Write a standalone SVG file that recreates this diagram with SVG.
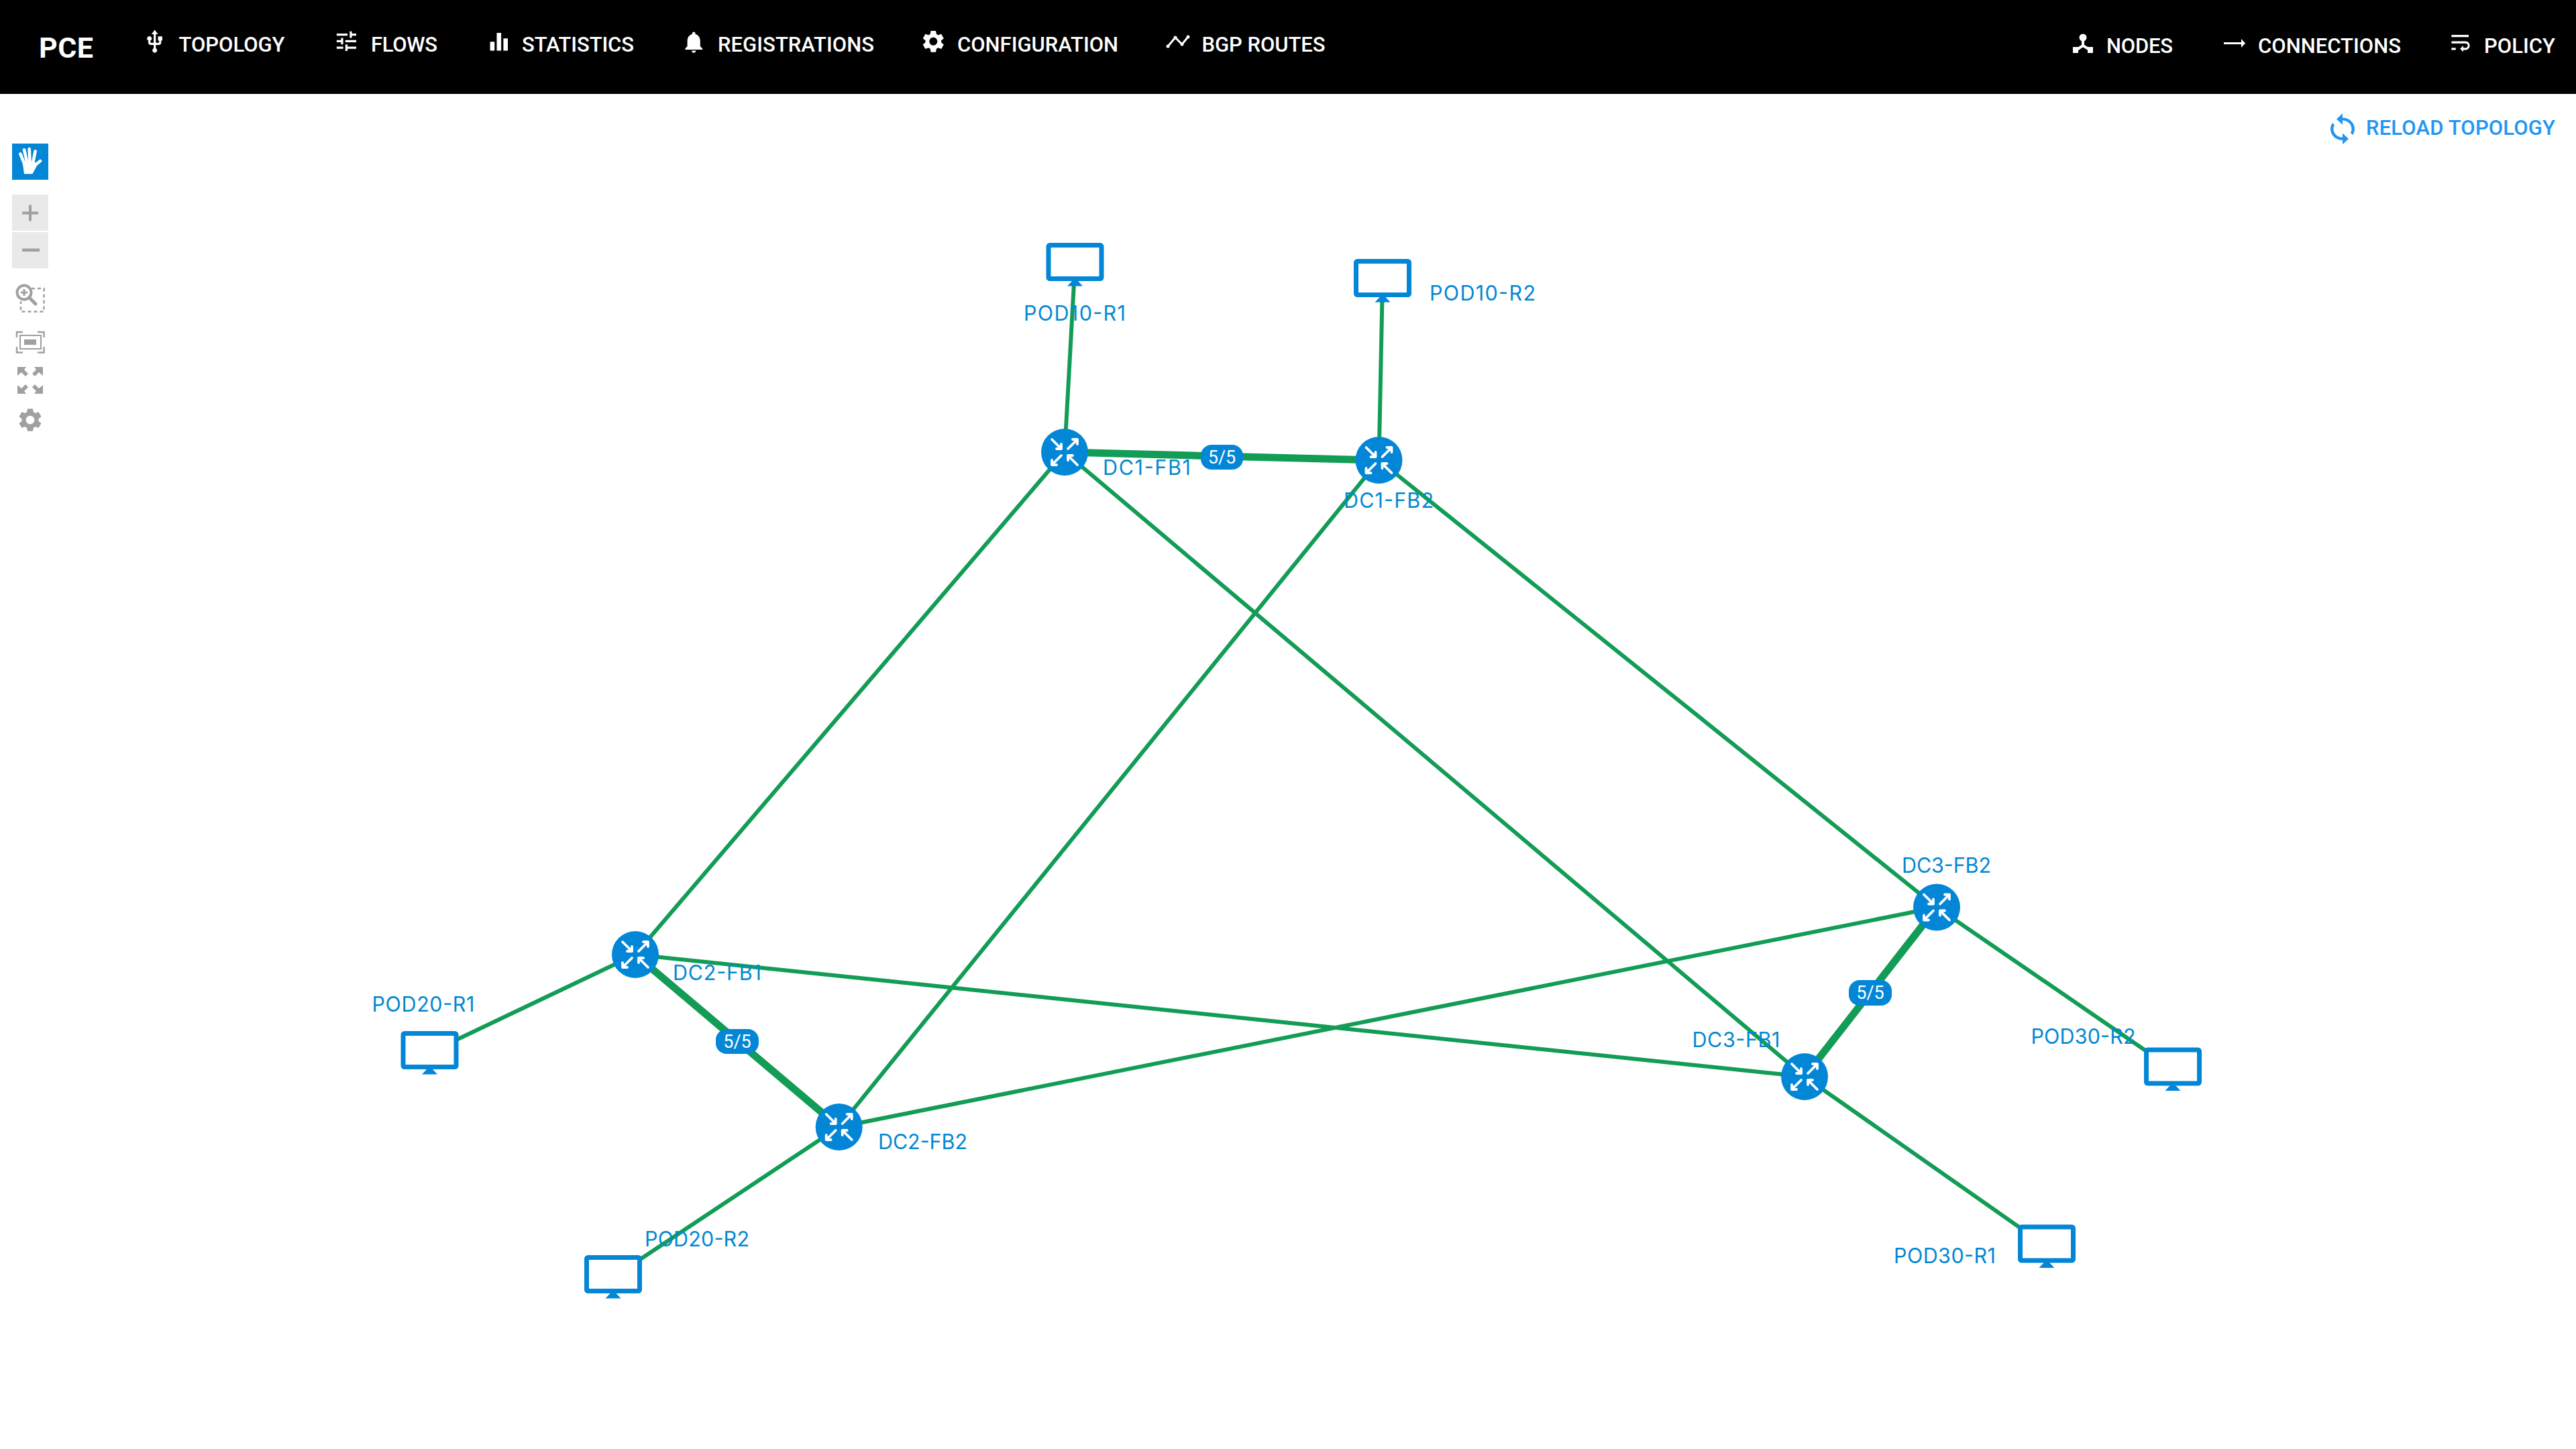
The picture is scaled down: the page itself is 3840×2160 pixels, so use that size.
<svg xmlns="http://www.w3.org/2000/svg" xmlns:xlink="http://www.w3.org/1999/xlink" width="3840" height="2160" viewBox="0 0 3840 2160">
<style>
.nav{font-family:Roboto,"Liberation Sans",sans-serif;font-weight:500;font-size:31px;fill:#fff}
.brand{font-family:Roboto,"Liberation Sans",sans-serif;font-weight:700;font-size:43px;fill:#fff}
.reload{font-family:Roboto,"Liberation Sans",sans-serif;font-weight:500;font-size:31px;fill:#2196f3}
.lbl{font-family:Inter,"Liberation Sans",sans-serif;font-size:30.500px;fill:#0288d1}
.badge{fill:#0386d6}
.badget{font-family:Roboto,"Liberation Sans",sans-serif;font-size:27px;fill:#fff;text-anchor:middle}
.e{stroke:#129c55;stroke-width:6;fill:none}
.t{stroke-width:11}
.w{fill:#fff}
.g{fill:#a0a0a0}
.gb{fill:none;stroke:#a0a0a0}
</style>
<defs>
<g id="router">
<circle r="35" fill="#0386d6"/>
<path d="M-19-19L-5-5M-5-12V-5H-12M5-5L19-19M12-19H19V-12M-5 5L-19 19M-19 12V19H-12M19 19L5 5M5 12V5H12" fill="none" stroke="#fff" stroke-width="3.800" stroke-linecap="round" stroke-linejoin="round"/>
</g>
<g id="monitor">
<rect x="-39.5" y="-25" width="79" height="50" rx="2" fill="#fff" stroke="#0386d6" stroke-width="7"/>
<path d="M-11.5 37L-4 29H4L11.500 37Z" fill="#0386d6" transform="translate(0,-1)"/>
</g>
<path id="gear" d="M19.14 12.94c.04-.3.06-.61.06-.94 0-.32-.02-.64-.07-.94l2.03-1.58c.18-.14.23-.41.12-.61l-1.92-3.32c-.12-.22-.37-.29-.59-.22l-2.39.96c-.5-.38-1.03-.7-1.62-.94l-.36-2.54c-.04-.24-.24-.41-.48-.41h-3.84c-.24 0-.43.17-.47.41l-.36 2.54c-.59.24-1.13.57-1.62.94l-2.39-.96c-.22-.08-.47 0-.59.22L2.74 8.87c-.12.21-.08.47.12.61l2.03 1.58c-.05.3-.09.63-.09.94s.02.64.07.94l-2.03 1.58c-.18.14-.23.41-.12.61l1.92 3.32c.12.22.37.29.59.22l2.39-.96c.5.38 1.03.7 1.62.94l.36 2.54c.05.24.24.41.48.41h3.84c.24 0 .44-.17.47-.41l.36-2.54c.59-.24 1.13-.56 1.62-.94l2.39.96c.22.08.47 0 .59-.22l1.92-3.32c.12-.22.07-.47-.12-.61l-2.01-1.58zM12 15.6c-1.98 0-3.6-1.62-3.6-3.6s1.62-3.6 3.6-3.6 3.6 1.62 3.6 3.6-1.62 3.6-3.6 3.6z"/>
</defs>
<rect width="3840" height="2160" fill="#fff"/>
<g id="navbar">
<rect width="3840" height="140" fill="#000"/>
<text class="brand" x="58" y="86" textLength="81">PCE</text>
<path class="w" transform="translate(211.500,43) scale(1.6)" d="M15 7v4h1v2h-3V5h2l-3-4-3 4h2v8H8v-2.070c.7-.37 1.200-1.080 1.200-1.930 0-1.210-.99-2.200-2.200-2.200-1.210 0-2.200.99-2.200 2.200 0 .85.5 1.560 1.200 1.930V13c0 1.110.89 2 2 2h3v3.050c-.71.37-1.200 1.100-1.200 1.950 0 1.220.99 2.200 2.200 2.200 1.210 0 2.200-.98 2.200-2.200 0-.85-.49-1.580-1.200-1.950V15h3c1.110 0 2-.89 2-2v-2h1V7h-4z"/>
<text class="nav" x="266.500" y="77" textLength="158">TOPOLOGY</text>
<path class="w" transform="translate(497,42) scale(1.62)" d="M3 17v2h6v-2H3zM3 5v2h10V5H3zm10 16v-2h8v-2h-8v-2h-2v6h2zM7 9v2H3v2h4v2h2V9H7zm14 4v-2H11v2h10zm-6-4h2V7h4V5h-4V3h-2v6z"/>
<text class="nav" x="553" y="77" textLength="99">FLOWS</text>
<path class="w" transform="translate(724,42.500) scale(1.65)" d="M10 20h4V4h-4v16zm-6 0h4v-8H4v8zM16 9v11h4V9h-4z"/>
<text class="nav" x="778" y="77" textLength="167">STATISTICS</text>
<path class="w" transform="translate(1015,43.500) scale(1.6)" d="M12 22c1.100 0 2-.9 2-2h-4c0 1.100.89 2 2 2zm6-6v-5c0-3.070-1.640-5.640-4.500-6.320V4c0-.83-.67-1.500-1.500-1.500s-1.500.67-1.500 1.500v.68C7.630 5.360 6 7.920 6 11v5l-2 2v1h16v-1l-2-2z"/>
<text class="nav" x="1070" y="77" textLength="233">REGISTRATIONS</text>
<use xlink:href="#gear" href="#gear" class="w" transform="translate(1371.500,42) scale(1.65)"/>
<text class="nav" x="1427" y="77" textLength="240">CONFIGURATION</text>
<path d="M1741 69L1752 56L1762 66L1771 55" fill="none" stroke="#fff" stroke-width="3"/>
<circle class="w" cx="1741" cy="69" r="2.500"/><circle class="w" cx="1752" cy="56" r="2.500"/><circle class="w" cx="1762" cy="66" r="2.500"/><circle class="w" cx="1771" cy="55" r="2.500"/>
<text class="nav" x="1791.500" y="77" textLength="184">BGP ROUTES</text>
<circle class="w" cx="3105" cy="56" r="5.500"/>
<path d="M3105 60V68L3096 74M3105 68L3115 74" fill="none" stroke="#fff" stroke-width="4"/>
<rect class="w" x="3090" y="70" width="8" height="9"/><rect class="w" x="3112" y="70" width="8" height="9"/>
<text class="nav" x="3140" y="79" textLength="99">NODES</text>
<path class="w" d="M3315 63H3341V58L3347 64.500L3341 71V66H3315Z"/>
<text class="nav" x="3366" y="79" textLength="213">CONNECTIONS</text>
<path class="w" transform="translate(3648,44) scale(1.6)" d="M4 19h4v-2H4v2zM20 5H4v2h16V5zm-3 6H4v2h13.250c1.100 0 2 .9 2 2s-.9 2-2 2H15v-2l-3 3 3 3v-2h2c2.210 0 4-1.790 4-4s-1.790-4-4-4z"/>
<text class="nav" x="3703" y="79" textLength="106">POLICY</text>
</g>
<g id="reload-topology">
<path fill="#2196f3" transform="translate(3465,167) scale(2.25,2.1)" d="M12 4V1L8 5l4 4V6c3.310 0 6 2.690 6 6 0 1.010-.25 1.970-.7 2.800l1.460 1.460C19.540 15.030 20 13.570 20 12c0-4.420-3.580-8-8-8zm0 14c-3.310 0-6-2.690-6-6 0-1.010.25-1.970.7-2.800L5.240 7.740C4.460 8.970 4 10.430 4 12c0 4.420 3.580 8 8 8v3l4-4-4-4v3z"/>
<text class="reload" x="3527" y="201" textLength="282">RELOAD TOPOLOGY</text>
</g>
<g id="toolbar">
<rect x="18" y="214" width="54" height="54" fill="#0386d6"/>
<g transform="translate(0,190) scale(.33333)">
<path class="w" d="M100 150L172 158L145 208H108Z"/>
<path d="M91 118L112 170M108 100L122 160M131 96L134 160M158 106L146 165M180 150L152 172" fill="none" stroke="#fff" stroke-width="14" stroke-linecap="round"/>
</g>
<rect x="18" y="290" width="54" height="54" fill="#e9e9e9"/>
<path class="g" d="M33 315.500H57V319.500H33ZM43 305.500H47V329.500H43Z"/>
<rect x="18" y="346" width="54" height="54" fill="#e9e9e9"/>
<rect class="g" x="33" y="370.500" width="26" height="4.500"/>
<path d="M47 430H65.500V464.500H31V449" fill="none" stroke="#a0a0a0" stroke-width="2.500" stroke-dasharray="5 4"/>
<circle cx="36" cy="436" r="10.500" fill="#fff" stroke="#a0a0a0" stroke-width="4"/>
<path d="M43.500 443.500L53 453" stroke="#a0a0a0" stroke-width="5" stroke-linecap="round"/>
<path d="M31 436H41M36 431V441" stroke="#a0a0a0" stroke-width="3"/>
<path class="gb" stroke-width="2.500" d="M25 503V495H34M56 495H65.500V503M25 517V525.500H34M56 525.500H65.500V517"/>
<rect class="gb" stroke-width="2" x="30" y="500" width="31" height="20"/>
<rect class="g" x="36" y="506" width="18" height="8"/>
<path class="g" d="M26 547H39L36 551L42 557L38 561L32 555L26 560ZM64 547H51L54 551L48 557L52 561L58 555L64 560ZM26 587H39L36 583L42 577L38 573L32 579L26 574ZM64 587H51L54 583L48 577L52 573L58 579L64 574Z"/>
<use xlink:href="#gear" href="#gear" class="g" transform="translate(24,605) scale(1.75)"/>
</g>
<g id="connectors">
<path class="e" d="M1587 674L1602.500 395"/>
<path class="e" d="M2055.500 686L2061 419"/>
<path class="e t" d="M1587 674L2055.500 686"/>
<path class="e" d="M1587 674L947 1423"/>
<path class="e" d="M1587 674L2690 1605"/>
<path class="e" d="M2055.500 686L1250.700 1680"/>
<path class="e" d="M2055.500 686L2887 1352.500"/>
<path class="e t" d="M947 1423L1250.700 1680"/>
<path class="e" d="M947 1423L2690 1605"/>
<path class="e" d="M1250.700 1680L2887 1352.500"/>
<path class="e t" d="M2690 1605L2887 1352.500"/>
<path class="e" d="M947 1423L640.500 1569"/>
<path class="e" d="M1250.700 1680L914 1904"/>
<path class="e" d="M2690 1605L3051 1858"/>
<path class="e" d="M2887 1352.500L3239 1594"/>
<g id="link-dc1"><rect class="badge" x="1790" y="663" width="63" height="37" rx="16"/><text class="badget" x="1821.500" y="691">5/5</text></g>
<g id="link-dc2"><rect class="badge" x="1067" y="1534" width="64" height="37" rx="16"/><text class="badget" x="1099" y="1562">5/5</text></g>
<g id="link-dc3"><rect class="badge" x="2756" y="1461" width="64" height="38" rx="16"/><text class="badget" x="2788" y="1489">5/5</text></g>
</g>
<g id="pod10-r1"><use xlink:href="#monitor" href="#monitor" x="1602.500" y="390.500"/><text class="lbl" x="1526" y="477.500" textLength="152">POD10-R1</text></g>
<g id="pod10-r2"><use xlink:href="#monitor" href="#monitor" x="2061" y="414.500"/><text class="lbl" x="2131" y="447.500" textLength="158">POD10-R2</text></g>
<g id="dc1-fb1"><use xlink:href="#router" href="#router" x="1587" y="674"/><text class="lbl" x="1644" y="708" textLength="131">DC1-FB1</text></g>
<g id="dc1-fb2"><use xlink:href="#router" href="#router" x="2055.500" y="686"/><text class="lbl" x="2003" y="757" textLength="134">DC1-FB2</text></g>
<g id="pod20-r1"><use xlink:href="#monitor" href="#monitor" x="640.500" y="1565.500"/><text class="lbl" x="554.500" y="1508" textLength="153">POD20-R1</text></g>
<g id="pod20-r2"><use xlink:href="#monitor" href="#monitor" x="914" y="1899.500"/><text class="lbl" x="961" y="1858" textLength="156">POD20-R2</text></g>
<g id="dc2-fb1"><use xlink:href="#router" href="#router" x="947" y="1423"/><text class="lbl" x="1003" y="1461" textLength="132">DC2-FB1</text></g>
<g id="dc2-fb2"><use xlink:href="#router" href="#router" x="1250.700" y="1680"/><text class="lbl" x="1309" y="1713" textLength="133">DC2-FB2</text></g>
<g id="dc3-fb1"><use xlink:href="#router" href="#router" x="2690" y="1605"/><text class="lbl" x="2522.500" y="1561" textLength="131">DC3-FB1</text></g>
<g id="dc3-fb2"><use xlink:href="#router" href="#router" x="2887" y="1352.500"/><text class="lbl" x="2835" y="1301" textLength="133">DC3-FB2</text></g>
<g id="pod30-r1"><use xlink:href="#monitor" href="#monitor" x="3051" y="1854"/><text class="lbl" x="2823" y="1883" textLength="152">POD30-R1</text></g>
<g id="pod30-r2"><use xlink:href="#monitor" href="#monitor" x="3239" y="1590"/><text class="lbl" x="3027.500" y="1556" textLength="156">POD30-R2</text></g>
</svg>
